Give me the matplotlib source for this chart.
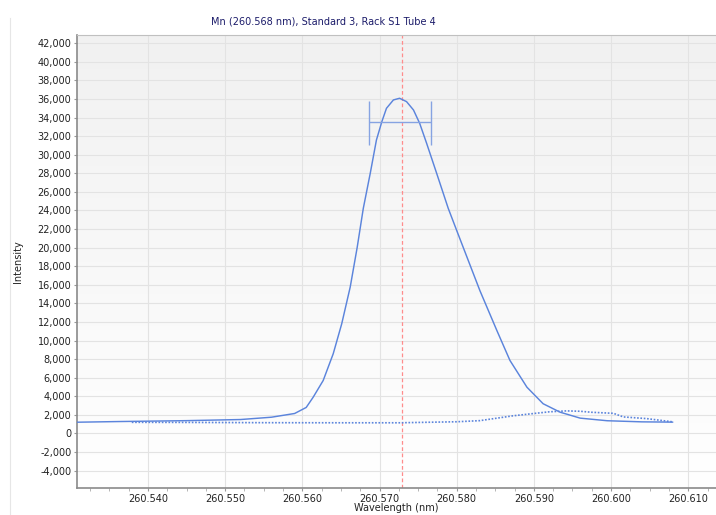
import numpy as np
import matplotlib
matplotlib.use("Agg")
import matplotlib.pyplot as plt
from matplotlib.ticker import FuncFormatter, MultipleLocator
from matplotlib.lines import Line2D

# -------------------------------
# Data
# -------------------------------
title = "Mn (260.568 nm), Standard 3, Rack S1 Tube 4"

peak_wl = [260.5300, 260.5360, 260.5450, 260.5520, 260.5560, 260.5590, 260.5605,
           260.5614, 260.5627, 260.5640, 260.5651, 260.5662, 260.5671, 260.5679,
           260.5688, 260.5696, 260.5703, 260.5709, 260.5718, 260.5726, 260.5735,
           260.5744, 260.5752, 260.5761, 260.5774, 260.5789, 260.5800, 260.5830,
           260.5852, 260.5869, 260.5891, 260.5912, 260.5934, 260.5960, 260.5995,
           260.6040, 260.6080]
peak_int = [1200, 1280, 1380, 1500, 1750, 2150, 2800,
            3900, 5700, 8580, 11800, 15750, 20000, 24240,
            28010, 31590, 33560, 35000, 35900, 36080, 35720,
            34820, 33390, 31240, 28010, 24240, 21850, 15390,
            11090, 7860, 4980, 3200, 2290, 1650, 1370,
            1250, 1220]

bkg_wl = [260.5379, 260.5450, 260.5550, 260.5650, 260.5726, 260.5800, 260.5830,
          260.5873, 260.5900, 260.5920, 260.5942, 260.5960, 260.5975, 260.6003,
          260.6016, 260.6046, 260.6080]
bkg_int = [1200, 1190, 1160, 1150, 1150, 1260, 1380,
           1900, 2150, 2330, 2430, 2390, 2280, 2170,
           1780, 1600, 1250]

peak_pos = 260.5729          # red marker line
fwhm_center = 260.5727
fwhm_half = 0.0040
fwhm_level = 33500
cap_low, cap_high = 31030, 35790

# -------------------------------
# Figure
# -------------------------------
fig = plt.figure(figsize=(7.16, 5.15), dpi=100)
ax = fig.add_axes([77 / 716, 1 - 488 / 515, 1 - 77 / 716, (488 - 35) / 515])

# light gray (top) to white (bottom) background
shade = np.linspace(1.0, 0.945, 256).reshape(-1, 1, 1) * np.ones((1, 1, 3))
ax.imshow(shade, extent=[0, 1, 0, 1], transform=ax.transAxes,
          aspect="auto", zorder=0, origin="lower")

blue = "#5b84dc"
ax.plot(peak_wl, peak_int, color=blue, lw=1.05, zorder=3,
        solid_joinstyle="round", solid_capstyle="round")
ax.plot(bkg_wl, bkg_int, color=blue, lw=1.2, ls=(0, (1, 1)), zorder=3)

ax.axvline(peak_pos, color="#ff8c8c", lw=0.9, ls=(0, (3, 2)), zorder=2)

ax.hlines(fwhm_level, fwhm_center - fwhm_half, fwhm_center + fwhm_half,
          color="#86a3e2", lw=1.0, zorder=4)
ax.vlines([fwhm_center - fwhm_half, fwhm_center + fwhm_half], cap_low, cap_high,
          color="#86a3e2", lw=1.0, zorder=4)

ax.set_xlim(260.5308, 260.6136)
ax.set_ylim(-5870, 42890)

ax.xaxis.set_major_locator(MultipleLocator(0.01))
ax.xaxis.set_minor_locator(MultipleLocator(0.0025))
ax.yaxis.set_major_locator(MultipleLocator(2000))
ax.xaxis.set_major_formatter(FuncFormatter(lambda v, p: f"{v:.3f}"))
ax.yaxis.set_major_formatter(FuncFormatter(lambda v, p: f"{v:,.0f}"))

ax.grid(True, which="major", color="#e3e3e3", lw=0.8, zorder=1)
ax.set_axisbelow(True)

ax.tick_params(axis="both", which="major", labelsize=7, length=2.5,
               color="#999999", labelcolor="#222222", pad=1.5)
ax.tick_params(axis="x", which="minor", length=2, color="#aaaaaa")

for s in ["left", "bottom"]:
    ax.spines[s].set_color("#8a8a8a")
    ax.spines[s].set_linewidth(1.2)
ax.spines["top"].set_color("#c0c0c0")
ax.spines["right"].set_visible(False)

fig.text(396 / 716, 1 - 508 / 515, "Wavelength (nm)", fontsize=7,
         color="#222222", ha="center", va="center")
fig.text(18 / 716, 1 - 262 / 515, "Intensity", rotation=90, fontsize=7,
         color="#222222", ha="center", va="center")
fig.text(323 / 716, 1 - 22 / 515, title, fontsize=7, color="#1c1c6a",
         ha="center", va="center")

fig.add_artist(Line2D([9.5 / 716, 9.5 / 716], [0, 1 - 18 / 515],
                      transform=fig.transFigure, color="#e6e6e6", lw=0.8))

fig.savefig("out.png", dpi=100)
